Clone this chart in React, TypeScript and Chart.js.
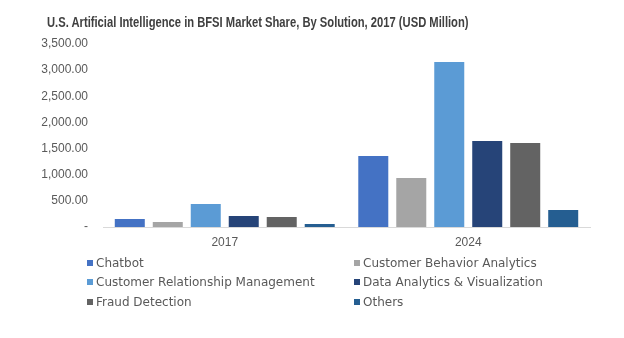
import React, { useEffect, useRef } from "react";
import { Chart, registerables } from "chart.js";

Chart.register(...registerables);

const title = "U.S. Artificial Intelligence in BFSI Market Share, By Solution, 2017 (USD Million)";
const years = ["2017", "2024"];
const seriesNames = [
  "Chatbot",
  "Customer Behavior Analytics",
  "Customer Relationship Management",
  "Data Analytics & Visualization",
  "Fraud Detection",
  "Others",
];
const seriesColors = ["#4472C4", "#A5A5A5", "#5B9BD5", "#264478", "#636363", "#255E91"];
const chatbot = [153, 1358];
const behavior = [96, 937];
const crm = [440, 3155];
const dataViz = [210, 1645];
const fraud = [191, 1606];
const others = [57, 325];
const seriesValues = [chatbot, behavior, crm, dataViz, fraud, others];
const yMax = 3500;
const yStep = 500;

function fmt(v: number): string {
  if (v === 0) return "-";
  return v.toLocaleString("en-US", { minimumFractionDigits: 2, maximumFractionDigits: 2 });
}

export default function App() {
  const ref = useRef<HTMLCanvasElement | null>(null);
  useEffect(() => {
    if (!ref.current) return;
    const chart = new Chart(ref.current, {
      type: "bar",
      data: {
        labels: years,
        datasets: seriesNames.map((n, i) => ({
          label: n,
          data: seriesValues[i],
          backgroundColor: seriesColors[i],
          borderWidth: 0,
          categoryPercentage: 0.936,
          barPercentage: 0.79,
        })),
      },
      options: {
        responsive: false,
        animation: false,
        layout: { padding: { left: 0, right: 26, top: 36, bottom: 0 } },
        plugins: { legend: { display: false }, title: { display: false }, tooltip: { enabled: false } },
        scales: {
          x: {
            grid: { display: false, drawTicks: false },
            border: { display: true, color: "#d9d9d9", width: 1 },
            ticks: { color: "#595959", font: { family: "Liberation Sans", size: 12 }, padding: 8 },
            afterFit: (s: any) => { s.height = 103; },
          },
          y: {
            min: 0,
            max: yMax,
            grid: { display: false, drawTicks: false },
            border: { display: false },
            ticks: {
              stepSize: yStep,
              color: "#595959",
              font: { family: "Liberation Sans", size: 12 },
              padding: 15,
              callback: (v: any) => fmt(Number(v)),
            },
            afterFit: (s: any) => { s.width = 95; },
          },
        },
      },
    });
    return () => chart.destroy();
  }, []);

  const legendFont = "'DejaVu Sans', sans-serif";
  return (
    <div style={{ position: "relative", width: 608, height: 322 }}>
      <canvas ref={ref} width={608} height={322} style={{ position: "absolute", left: 0, top: 0 }} />
      <div
        style={{
          position: "absolute",
          left: 39,
          top: 6,
          fontFamily: "'Liberation Sans', Arial, sans-serif",
          fontWeight: "bold",
          fontSize: 14,
          color: "#404040",
          whiteSpace: "nowrap",
          transform: "scaleX(0.8)",
          transformOrigin: "left top",
        }}
      >
        {title}
      </div>
      {seriesNames.map((n, i) => {
        const col = i % 2;
        const row = Math.floor(i / 2);
        return (
          <div
            key={n}
            style={{
              position: "absolute",
              left: col === 0 ? 79 : 346,
              top: 247.5 + row * 19.7,
              display: "flex",
              alignItems: "center",
              fontFamily: legendFont,
              fontSize: 12,
              color: "#595959",
              whiteSpace: "nowrap",
              lineHeight: "14px",
            }}
          >
            <span style={{ display: "inline-block", width: 6, height: 6, background: seriesColors[i], marginRight: 3 }} />
            {n}
          </div>
        );
      })}
    </div>
  );
}
